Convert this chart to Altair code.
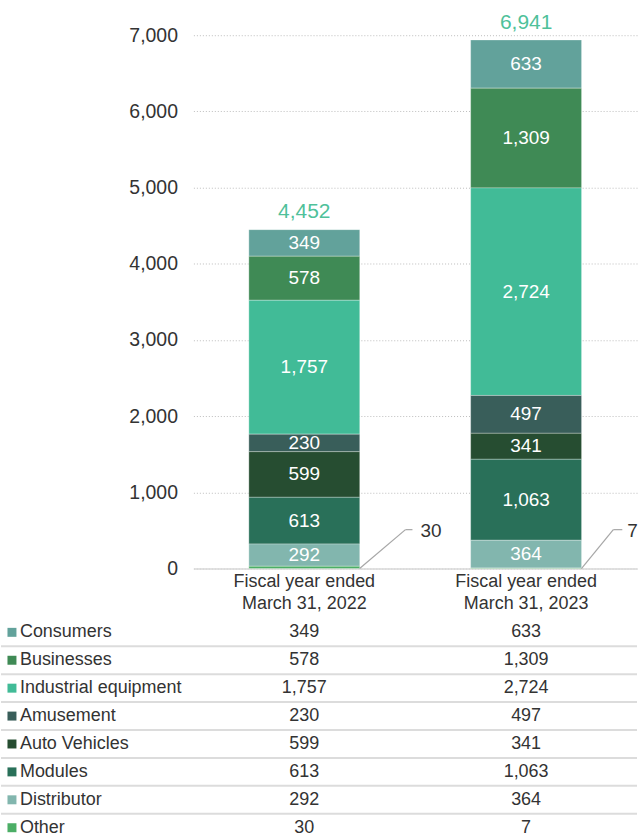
import altair as alt
import pandas as pd

year_labels = ["Fiscal year ended March 31, 2022", "Fiscal year ended March 31, 2023"]
categories = ["Consumers", "Businesses", "Industrial equipment", "Amusement",
              "Auto Vehicles", "Modules", "Distributor", "Other"]
values_2022 = [349, 578, 1757, 230, 599, 613, 292, 30]
values_2023 = [633, 1309, 2724, 497, 341, 1063, 364, 7]
totals = [4452, 6941]
colors = ["#62a29b", "#3f8a55", "#41bb97", "#395e5a", "#264d31", "#297059", "#82b6ae", "#4cae66"]
y_ticks = [0, 1000, 2000, 3000, 4000, 5000, 6000, 7000]

rows = []
for yl, vals in zip(year_labels, [values_2022, values_2023]):
    for i, (c, v) in enumerate(zip(categories, vals)):
        rows.append({"year": yl, "category": c, "value": v, "order": len(categories) - i})
df = pd.DataFrame(rows)
tot = pd.DataFrame({"year": year_labels, "total": totals})
cats = pd.DataFrame({"category": categories})

FONT = "Liberation Sans"
TXT = "#333333"
xscale = alt.Scale(domain=year_labels, paddingInner=0.5, paddingOuter=0.25)
cscale = alt.Scale(domain=categories, range=colors)
yscale = alt.Scale(domain=[0, 7445], nice=False)

xaxis = alt.Axis(labelAngle=0, ticks=False, domainColor="#d9d9d9", domainWidth=1.5,
                 labelFontSize=18, labelColor=TXT, labelFont=FONT, labelPadding=4,
                 labelLineHeight=22, grid=False, title=None,
                 labelExpr="[slice(datum.value, 0, 17), slice(datum.value, 18)]")
yaxis = alt.Axis(values=y_ticks, format=",.0f", ticks=False, domain=False, grid=True,
                 gridDash=[1, 2], gridColor="#bdbdbd", gridWidth=1, title=None,
                 labelFontSize=19.5, labelColor=TXT, labelFont=FONT, labelPadding=16)


def X():
    return alt.X("year:N", scale=xscale, axis=xaxis, title=None)


base = alt.Chart(df)

bars = base.mark_bar(stroke="white", strokeWidth=0.5, strokeOpacity=0.6).encode(
    x=X(),
    y=alt.Y("value:Q", stack="zero", scale=yscale, axis=yaxis, title=None),
    color=alt.Color("category:N", scale=cscale, legend=None),
    order=alt.Order("order:Q", sort="ascending"),
)

seg_labels = base.transform_stack(
    stack="value", groupby=["year"], sort=[alt.SortField("order", order="ascending")],
    as_=["y0", "y1"]
).transform_calculate(
    mid="(datum.y0 + datum.y1) / 2"
).transform_filter(
    "datum.category != 'Other'"
).mark_text(color="white", fontSize=19, font=FONT, baseline="middle").encode(
    x=X(),
    y=alt.Y("mid:Q", scale=yscale, axis=yaxis, title=None),
    text=alt.Text("value:Q", format=","),
)

total_labels = alt.Chart(tot).mark_text(
    color="#4fc19a", fontSize=21, font=FONT, baseline="alphabetic", dy=-11
).encode(
    x=X(),
    y=alt.Y("total:Q", scale=yscale, axis=yaxis, title=None),
    text=alt.Text("total:Q", format=","),
)

leaders = []
half = 55.5
for yl, dxd, dxh, dxt in [(year_labels[0], 46, 7, 61), (year_labels[1], 32, 9, 46)]:
    other = base.transform_filter(
        f"datum.category == 'Other' && datum.year == '{yl}'")
    diag = other.mark_rule(color="#a6a6a6", strokeWidth=1.2,
                           xOffset=half, x2Offset=half + dxd, y2Offset=-39).encode(
        x=X(), x2="year:N",
        y=alt.YDatum(0, scale=yscale, axis=yaxis, title=None), y2=alt.Y2Datum(0))
    horiz = other.mark_rule(color="#a6a6a6", strokeWidth=1.2,
                            xOffset=half + dxd, x2Offset=half + dxd + dxh,
                            yOffset=-39, y2Offset=-39).encode(
        x=X(), x2="year:N",
        y=alt.YDatum(0, scale=yscale, axis=yaxis, title=None), y2=alt.Y2Datum(0))
    lab = other.mark_text(color=TXT, fontSize=19, font=FONT, align="left", baseline="middle",
                          dx=half + dxt, dy=-38).encode(
        x=X(),
        y=alt.YDatum(0, scale=yscale, axis=yaxis, title=None),
        text=alt.Text("value:Q", format=","))
    leaders += [diag, horiz, lab]

top = alt.layer(bars, seg_labels, total_labels, *leaders).properties(width=445, height=569)

ycat = alt.Y("category:N", sort=categories, title=None, axis=None)

separators = alt.Chart(cats).transform_filter("datum.category != 'Other'").mark_rule(
    color="#dcdcdc", strokeWidth=2
).encode(
    y=alt.Y("category:N", sort=categories, title=None, axis=None, bandPosition=1),
    x=alt.value(-193), x2=alt.value(445),
)
table_vals = alt.Chart(df).mark_text(fontSize=18, font=FONT, color=TXT, baseline="middle").encode(
    x=alt.X("year:N", scale=xscale, axis=None),
    y=ycat,
    text=alt.Text("value:Q", format=","),
)
table_names = alt.Chart(cats).mark_text(fontSize=18, font=FONT, color=TXT, align="left",
                                         baseline="middle").encode(
    x=alt.value(-174), y=ycat, text="category:N")
table_squares = alt.Chart(cats).mark_square(size=81, opacity=1).encode(
    x=alt.value(-182), y=ycat,
    color=alt.Color("category:N", scale=cscale, legend=None))

table = alt.layer(separators, table_vals, table_names, table_squares).properties(width=445, height=224)

chart = alt.vconcat(top, table, spacing=6).properties(
    padding={"left": 0, "top": 0, "right": 0, "bottom": 0}
).configure(font=FONT).configure_view(stroke=None)

chart.save("out.html", embed_options={"renderer": "svg", "actions": False})
